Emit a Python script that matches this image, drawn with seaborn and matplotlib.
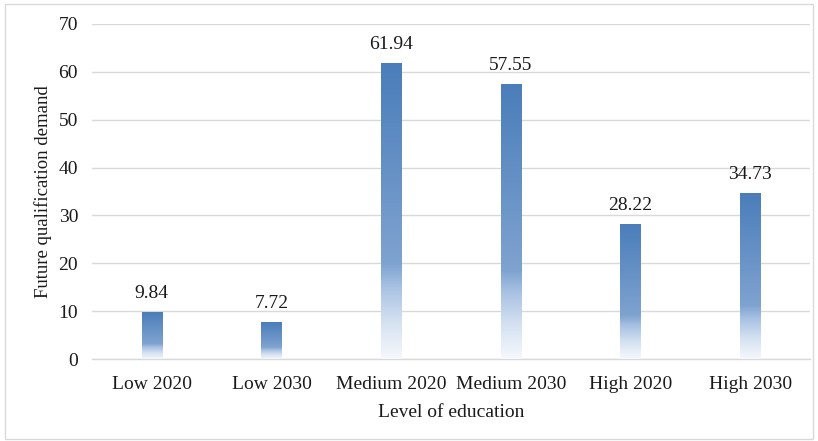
import numpy as np
import pandas as pd
import matplotlib
matplotlib.use("Agg")
import matplotlib.pyplot as plt
from matplotlib.colors import LinearSegmentedColormap
from matplotlib.patches import Rectangle
import seaborn as sns

categories = ["Low 2020", "Low 2030", "Medium 2020", "Medium 2030", "High 2020", "High 2030"]
values = [9.84, 7.72, 61.94, 57.55, 28.22, 34.73]
y_ticks = [0, 10, 20, 30, 40, 50, 60, 70]

df = pd.DataFrame({"level": categories, "demand": values})

sns.set_theme(style="white")
plt.rcParams["font.family"] = ["Liberation Serif", "DejaVu Serif"]

fig = plt.figure(figsize=(8.18, 4.41), dpi=100)
ax = fig.add_axes([92 / 818, 1 - 359 / 441, (810 - 92) / 818, (359 - 24) / 441])

sns.barplot(data=df, x="level", y="demand", ax=ax, width=0.17,
            color="#4F81BD", saturation=1, errorbar=None, zorder=3)

# vertical gradient fill: blue from the top, fading to white near the base
grad_cmap = LinearSegmentedColormap.from_list(
    "fade", [(0.0, "#F5F8FC"), (0.12, "#D6E2F2"), (0.24, "#A9C2E3"),
             (0.32, "#7FA3D0"), (1.0, "#4A7DBA")])
grad = np.linspace(0, 1, 256).reshape(-1, 1)
for patch in ax.patches:
    x0, y0 = patch.get_x(), patch.get_y()
    w, h = patch.get_width(), patch.get_height()
    im = ax.imshow(grad, cmap=grad_cmap, origin="lower", aspect="auto",
                   extent=[x0, x0 + w, y0, y0 + h], zorder=3, interpolation="bilinear")
    im.set_clip_path(patch)
    patch.set_facecolor("none")
    patch.set_edgecolor("none")

for i, v in enumerate(values):
    ax.text(i, v + 2.0, f"{v:.2f}", ha="center", va="bottom", fontsize=14, color="#1a1a1a")

ax.set_xlim(-0.5, len(categories) - 0.5)
ax.set_ylim(0, 70)
ax.set_yticks(y_ticks)
ax.set_yticklabels([str(t) for t in y_ticks], fontsize=14, color="#1a1a1a")
ax.set_xticks(range(len(categories)))
ax.set_xticklabels(categories, fontsize=14, color="#1a1a1a")
ax.tick_params(axis="x", length=0, pad=12)
ax.tick_params(axis="y", length=0, pad=10)

# boundary ticks between categories
ax.set_xticks(np.arange(-0.5, len(categories), 1.0), minor=True)
ax.tick_params(axis="x", which="minor", length=5, color="#D9D9D9", width=1)

ax.grid(axis="y", color="#D9D9D9", linewidth=1, zorder=0)
ax.set_axisbelow(True)
for side in ["top", "right", "left"]:
    ax.spines[side].set_visible(False)
ax.spines["bottom"].set_color("#D9D9D9")
ax.spines["bottom"].set_linewidth(1)

ax.set_xlabel("Level of education", fontsize=14, color="#1a1a1a", labelpad=8)
ax.set_ylabel("Future qualification demand", fontsize=13.5, color="#1a1a1a", labelpad=5)

fig.patches.append(Rectangle((5 / 818, 2 / 441), 808 / 818, 435 / 441,
                             transform=fig.transFigure, fill=False,
                             edgecolor="#D9D9D9", linewidth=1))

fig.savefig("out.png", dpi=100)
